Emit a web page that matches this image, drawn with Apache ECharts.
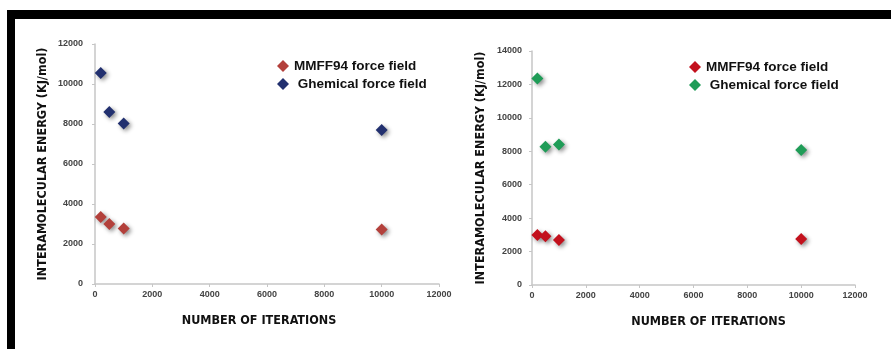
<!DOCTYPE html>
<html><head><meta charset="utf-8">
<script src="https://cdn.jsdelivr.net/npm/echarts@6/dist/echarts.min.js"></script>
<style>html,body{margin:0;padding:0;background:#fff}#c{width:891px;height:349px}</style>
</head><body><div id="c"></div>
<script>
const iterations = [200, 500, 1000, 10000];
const leftMMFF94 = [3350, 3000, 2780, 2720];
const leftGhemical = [10550, 8600, 8030, 7700];
const rightMMFF94 = [2990, 2910, 2690, 2750];
const rightGhemical = [12350, 8270, 8400, 8070];
const xTicks = [0, 2000, 4000, 6000, 8000, 10000, 12000];
const nameMMFF = 'MMFF94 force field';
const nameGhem = 'Ghemical force field';

const leftRed = '#b3403b', leftBlue = '#22306f';
const rightRed = '#c3111d', rightGreen = '#1f9c57';

const titleFont = "'DejaVu Sans Condensed','Liberation Sans Narrow',sans-serif";
const tickLabel = {fontSize: 9, fontWeight: 'bold', color: '#444', fontFamily: 'Liberation Sans, Arial, sans-serif', formatter: v => String(v)};
const axisLineStyle = {show: true, lineStyle: {color: '#c6c6c6', width: 1.5}};
const shadow = {shadowBlur: 4, shadowColor: 'rgba(0,0,0,0.45)', shadowOffsetX: 2, shadowOffsetY: 2};

function pts(xs, ys){ return xs.map((x,i)=>[x, ys[i]]); }

function xAxis(gi, pad){
  return {type:'value', gridIndex: gi, min: xTicks[0], max: xTicks[xTicks.length-1], interval: 2000,
    splitLine:{show:false}, axisLine: axisLineStyle, axisTick:{show:true, length:3, lineStyle:{color:'#c6c6c6'}},
    axisLabel: Object.assign({margin:6}, tickLabel),
    name: 'NUMBER OF ITERATIONS', nameLocation:'middle', nameGap: 30,
    nameTextStyle:{fontFamily: titleFont, fontWeight:'bold', fontSize:12.5, color:'#111', padding: pad}};
}
function yAxis(gi, max, gap, margin){
  return {type:'value', gridIndex: gi, min:0, max:max, interval:2000,
    splitLine:{show:false}, axisLine: axisLineStyle, axisTick:{show:true, length:3, lineStyle:{color:'#c6c6c6'}},
    axisLabel: Object.assign({margin:margin}, tickLabel),
    name: 'INTERAMOLECULAR ENERGY (KJ/mol)', nameLocation:'middle', nameGap: gap,
    nameTextStyle:{fontFamily: titleFont, fontWeight:'bold', fontSize:12.5, color:'#111'}};
}
function legend(left, top, c1, c2){
  return {left: left, top: top, orient:'vertical', itemWidth:12, itemHeight:12, itemGap:4, icon:'diamond',
    textStyle:{fontFamily:'Liberation Sans, Arial, sans-serif', fontWeight:'bold', fontSize:13.5, color:'#111'},
    formatter: n => n === nameGhem ? ' ' + n : n,
    data:[{name:nameMMFF, itemStyle:{color:c1}}, {name:nameGhem, itemStyle:{color:c2}}]};
}
function sc(name, gi, data, color){
  return {type:'scatter', name:name, xAxisIndex:gi, yAxisIndex:gi, data:data, symbol:'diamond', symbolSize:12,
    itemStyle: Object.assign({color:color, opacity:1}, shadow)};
}

const chart = echarts.init(document.getElementById('c'), null, {renderer:'canvas'});
chart.setOption({
  animation:false,
  backgroundColor:'#fff',
  grid:[{left:95, right:452, top:44, bottom:65}, {left:532, right:36, top:51, bottom:64}],
  xAxis:[xAxis(0,[0,16,0,0]), xAxis(1,[0,0,0,30])],
  yAxis:[yAxis(0,12000,46,12), yAxis(1,14000,45,10)],
  legend:[legend(272, 54, leftRed, leftBlue), legend(684, 55, rightRed, rightGreen)],
  series:[
    sc(nameMMFF, 0, pts(iterations, leftMMFF94), leftRed),
    sc(nameGhem, 0, pts(iterations, leftGhemical), leftBlue),
    sc(nameMMFF, 1, pts(iterations, rightMMFF94), rightRed),
    sc(nameGhem, 1, pts(iterations, rightGhemical), rightGreen)
  ],
  graphic:[
    {type:'rect', shape:{x:7, y:10, width:884, height:9}, style:{fill:'#000'}, z:100},
    {type:'rect', shape:{x:7, y:10, width:8, height:339}, style:{fill:'#000'}, z:100}
  ]
});
</script></body></html>
